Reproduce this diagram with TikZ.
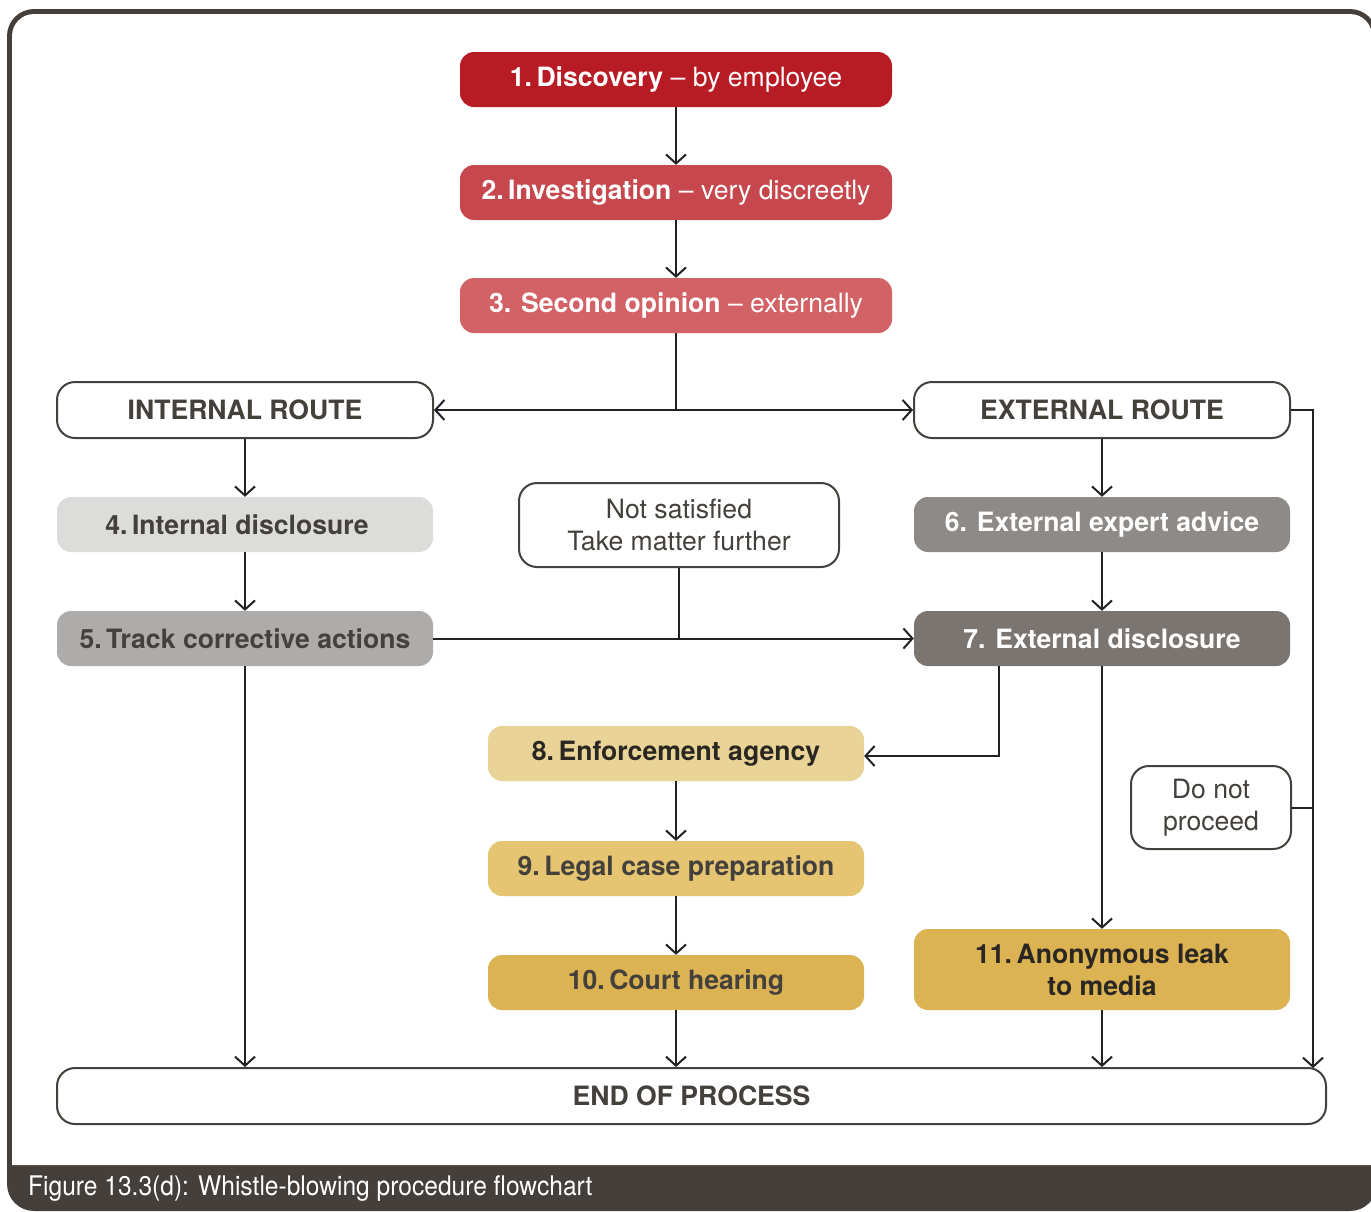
\documentclass[tikz,border=0pt]{standalone}
\usepackage{fontspec}
\setmainfont{TeX Gyre Heros}
\newfontfamily\capfamily[FakeStretch=0.91]{TeX Gyre Heros}
\usetikzlibrary{arrows.meta,calc}
\definecolor{framec}{HTML}{443F3A}
\definecolor{redA}{HTML}{B71C24}
\definecolor{redB}{HTML}{C6474D}
\definecolor{redC}{HTML}{D26266}
\definecolor{grayA}{HTML}{DCDCDB}
\definecolor{grayB}{HTML}{ADACAA}
\definecolor{grayC}{HTML}{8D8A87}
\definecolor{grayD}{HTML}{7A7571}
\definecolor{goldA}{HTML}{EAD397}
\definecolor{goldB}{HTML}{E5C572}
\definecolor{goldC}{HTML}{DCB352}
\definecolor{txtdark}{HTML}{44403C}
\definecolor{txtblack}{HTML}{2A2622}
\definecolor{linec}{HTML}{222222}
\newcommand\boxfont{\fontsize{26.6}{32}\selectfont}
\newcommand\capfont{\capfamily\fontsize{27}{30}\selectfont}
\newcommand\nsp{\hspace{0.17em}}
\begin{document}
\begin{tikzpicture}[x=1pt,y=-1pt,
  box/.style={rounded corners=14pt, minimum width=376pt, minimum height=55pt, inner sep=0pt, font=\boxfont\bfseries, align=center},
  redbox/.style={box, minimum width=432pt, text=white, font=\boxfont},
  wbox/.style={rounded corners=18pt, draw=txtdark, line width=2pt, fill=white, inner sep=0pt, align=center, text=txtdark},
  arr/.style={draw=linec, line width=2pt, -{Straight Barb[length=9pt,width=20pt,line width=2pt]}},
  ln/.style={draw=linec, line width=2pt}
]
\useasboundingbox (0,0) rectangle (1371,1211);
\begin{scope}
\clip (0,0) rectangle (1371,1211);
\fill[framec, rounded corners=27pt] (7,9) rectangle (1377,1211);
\fill[white] (12,1165) [rounded corners=22pt] -- (12,14) -- (1372,14) [sharp corners] -- (1372,1165) -- cycle;
\end{scope}
\node[anchor=base west, text=white, font=\capfont, inner sep=0pt] (cap) at (28,1195) {Figure 13.3(d): Whistle-blowing procedure flowchart};

% red top boxes
\node[redbox, fill=redA] (d1) at (676,79.5) {\textbf{1.\nsp Discovery} -- by employee};
\node[redbox, fill=redB] (d2) at (676,192.5) {\textbf{2.\nsp Investigation} -- very discreetly};
\node[redbox, fill=redC] (d3) at (676,305.5) {\textbf{3. Second opinion} -- externally};

% routes
\node[wbox, minimum width=376pt, minimum height=56pt, font=\boxfont\bfseries] (ir) at (245,410) {INTERNAL ROUTE};
\node[wbox, minimum width=376pt, minimum height=56pt, font=\boxfont\bfseries] (er) at (1102,410) {EXTERNAL ROUTE};

% internal
\node[box, fill=grayA, text=txtdark] (b4) at (245,524.5) {\hspace*{-16pt}4.\nsp Internal disclosure};
\node[box, fill=grayB, text=txtdark] (b5) at (245,638.5) {5.\nsp Track corrective actions};

% not satisfied
\node[wbox, minimum width=320pt, minimum height=84pt, font=\boxfont] (ns) at (679,525) {Not satisfied\\Take matter further};

% external
\node[box, fill=grayC, text=white] (b6) at (1102,524.5) {6. External expert advice};
\node[box, fill=grayD, text=white] (b7) at (1102,638.5) {7. External disclosure};

% gold
\node[box, fill=goldA, text=txtblack] (b8) at (676,753.5) {8.\nsp Enforcement agency};
\node[box, fill=goldB, text=txtdark] (b9) at (676,868.5) {9.\nsp Legal case preparation};
\node[box, fill=goldC, text=txtdark] (b10) at (676,982.5) {10.\nsp Court hearing};
\node[box, fill=goldC, text=txtblack, minimum height=81pt] (b11) at (1102,969.5) {11.\nsp Anonymous leak\\to media};

\node[wbox, minimum width=160pt, minimum height=83pt, font=\boxfont] (dnp) at (1211,807.5) {Do not\\proceed};

\node[wbox, minimum width=1269pt, minimum height=56pt, font=\boxfont\bfseries] (endp) at (691.5,1096) {END OF PROCESS};

% connectors
\draw[arr] (d1) -- (d2);
\draw[arr] (d2) -- (d3);
\coordinate (j3) at (676,410);
\draw[ln] (d3) -- (j3);
\draw[arr] (j3) -- (ir.east);
\draw[arr] (j3) -- (er.west);
\draw[arr] (ir) -- (b4);
\draw[arr] (b4) -- (b5);
\draw[arr] (b5.south) -- (b5.south |- endp.north);
\draw[arr] (b5) -- (b7);
\draw[ln] (ns.south) -- (ns.south |- b5.east);
\draw[arr] (er) -- (b6);
\draw[arr] (b6) -- (b7);
\draw[arr] ([xshift=-103pt]b7.south) |- ([yshift=-2.5pt]b8.east);
\draw[arr] (b7) -- (b11);
\draw[arr] (b8) -- (b9);
\draw[arr] (b9) -- (b10);
\draw[arr] (b10.south) -- (b10.south |- endp.north);
\draw[arr] (b11.south) -- (b11.south |- endp.north);
\coordinate (rr) at (1313,1068);
\draw[arr] (er.east) -| (rr);
\draw[ln] (dnp.east) -- (dnp.east -| rr);
\end{tikzpicture}
\end{document}
